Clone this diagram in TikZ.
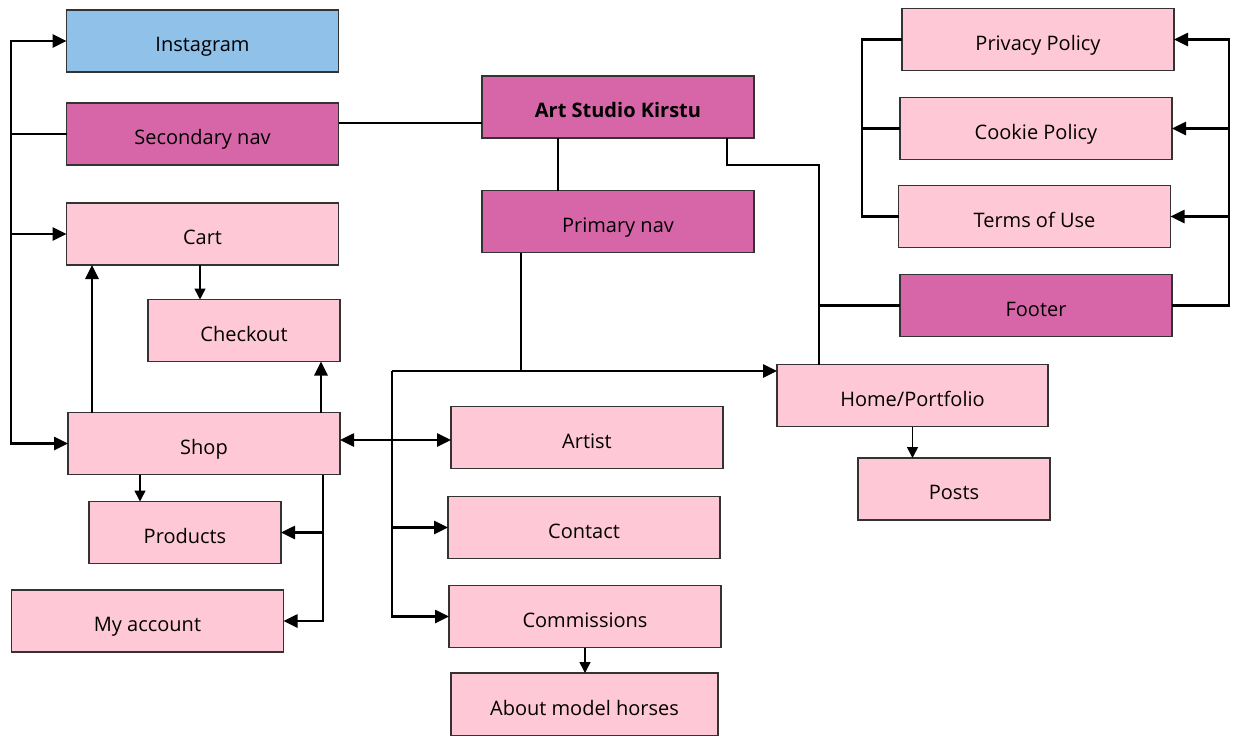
\documentclass[tikz,border=0pt]{standalone}
\usepackage{fontspec}
\setmainfont{Open Sans}
\usepackage{tikz}
\usetikzlibrary{arrows.meta}
\usetikzlibrary{positioning}
\definecolor{mpink}{HTML}{FFC8D7}
\definecolor{mmagenta}{HTML}{D766A8}
\definecolor{mblue}{HTML}{8FC1E9}
\definecolor{mborder}{HTML}{333333}
\tikzset{page/.style = {draw=mborder, line width=0.7pt, fill=mpink,
                        minimum width=136pt, minimum height=31pt,
                        inner sep=0pt, outer sep=0pt,
                        text height=10.5pt, text depth=0pt,
                        font=\fontsize{10}{11}\selectfont},
         navbox/.style = {page, fill=mmagenta},
         social/.style = {page, fill=mblue},
         smallbox/.style = {page, minimum width=96pt},
         link/.style = {line width=1.3pt},
         linkarrow/.style = {link, -{Triangle[length=7pt, width=6.5pt]}},
         linkboth/.style = {link, {Triangle[length=7pt, width=6.5pt]}-{Triangle[length=7pt, width=6.5pt]}},
         childarrow/.style = {line width=0.75pt, -{Triangle[length=5.5pt, width=5.5pt]}}}

\begin{document}
\begin{tikzpicture}[x=0.5pt, y=-0.5pt]
      \useasboundingbox (0, 0) rectangle (1233, 735);

      % left column
      \node [social] (insta) at (202.5, 41) {Instagram};
      \node [navbox] (secnav) at (202.5, 134) {Secondary nav};
      \node [page] (cart) at (202.5, 234) {Cart};
      \node [smallbox] (checkout) at (244, 330.5) {Checkout};
      \node [page] (shop) at (204, 443.5) {Shop};
      \node [smallbox] (products) at (185, 532.5) {Products};
      \node [page] (account) at (147.5, 621) {My account};

      % middle
      \node [navbox, font=\fontsize{10}{11}\selectfont\bfseries] (studio) at (618, 107) {Art Studio Kirstu};
      \node [navbox] (primary) at (618, 221.5) {Primary nav};
      \node [page] (artist) at (587, 437.5) {Artist};
      \node [page] (contact) at (584, 527.5) {Contact};
      \node [page] (commissions) at (585, 616.5) {Commissions};
      \node [page, minimum width=133.5pt, minimum height=31.5pt] (horses) at (584.5, 704.5) {About model horses};

      % right column
      \node [page] (privacy) at (1038, 39.5) {Privacy Policy};
      \node [page] (cookie) at (1036, 128.5) {Cookie Policy};
      \node [page] (terms) at (1034.5, 216.5) {Terms of Use};
      \node [navbox] (footer) at (1036, 305.5) {Footer};
      \node [page, minimum width=135.5pt] (home) at (912.5, 395.5) {Home/Portfolio};
      \node [smallbox] (posts) at (954, 489) {Posts};

      % buses
      \coordinate (lbus) at (11, 134);
      \coordinate (sn) at (339, 123);
      \coordinate (fbus) at (819, 165);
      \coordinate (mbus) at (392, 371);
      \coordinate (rbus) at (1229, 0);
      \coordinate (pbus) at (862, 0);
      \coordinate (sa) at (340, 440);

      % secondary nav
      \draw [link] (secnav.west) -- (lbus);
      \draw [linkarrow] (lbus) |- (insta.west);
      \draw [linkarrow] (lbus) |- (cart.west);
      \draw [linkarrow] (lbus) |- (shop.west);
      \draw [link] (sn) -- (sn -| studio.west);

      % studio
      \draw [link] (558, 0 |- studio.south) -- (558, 0 |- primary.north);
      \draw [link] (727, 0 |- studio.south) |- (fbus) -- (fbus |- home.north);
      \draw [link] (footer.west) -- (footer.west -| fbus);

      % primary nav
      \draw [link] (521, 0 |- primary.south) -- (mbus -| 521, 0);
      \draw [linkarrow] (mbus) -- (mbus -| home.west);
      \draw [linkarrow] (mbus) |- (commissions.west);
      \draw [linkarrow] (mbus |- contact.west) -- (contact.west);
      \draw [linkboth] (sa) -- (sa -| artist.west);

      % footer
      \draw [linkarrow] (footer.east) -| (rbus |- privacy.east) -- (privacy.east);
      \draw [linkarrow] (rbus |- cookie.east) -- (cookie.east);
      \draw [linkarrow] (rbus |- terms.east) -- (terms.east);
      \draw [link] (privacy.west) -| (pbus |- terms.west) -- (terms.west);
      \draw [link] (cookie.west) -- (cookie.west -| pbus);

      % shop
      \draw [linkarrow] (92, 0 |- shop.north) -- (92, 0 |- cart.south);
      \draw [linkarrow] (321, 0 |- shop.north) -- (321, 0 |- checkout.south);
      \draw [childarrow] (200, 0 |- cart.south) -- (200, 0 |- checkout.north);
      \draw [childarrow] (140, 0 |- shop.south) -- (140, 0 |- products.north);
      \draw [linkarrow] (323, 0 |- shop.south) |- (account.east);
      \draw [linkarrow] (323, 0 |- products.east) -- (products.east);

      \draw [childarrow] (home.south) -- (home.south |- posts.north);
      \draw [childarrow] (commissions.south) -- (commissions.south |- horses.north);

    \end{tikzpicture}
\end{document}
